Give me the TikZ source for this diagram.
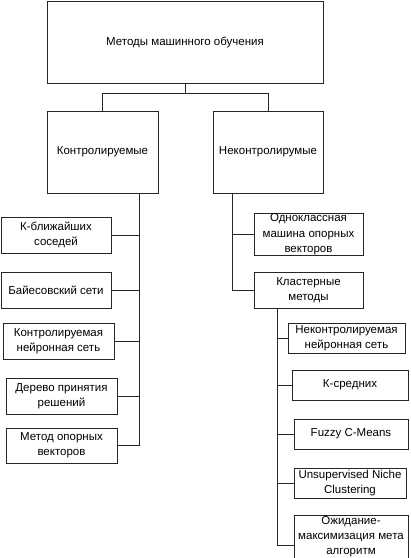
\documentclass[tikz,border=0pt]{standalone}
\usepackage{fontspec}
\setmainfont{Liberation Sans}
\usetikzlibrary{positioning}
\tikzstyle{box} = [rectangle, draw=black!85, line width=0.8pt, align=center, inner sep=1pt, font=\fontsize{11.5}{15}\selectfont]
\tikzstyle{line} = [draw=black!85, line width=0.8pt]

\begin{document}
\begin{tikzpicture}[x=1pt, y=-1pt]
\useasboundingbox (0,0) rectangle (411,558);
% top level
\node[box, minimum width=276pt, minimum height=82pt] (mlm) at (185,42) {Методы машинного обучения};
\node[box, minimum width=111pt, minimum height=82pt] (sup) at (102.5,152) {Контролируемые};
\node[box, minimum width=110pt, minimum height=82pt] (unsup) at (268,152) {Неконтролирумые};
% supervised
\node[box, minimum width=110pt, minimum height=36pt] (knn) at (56,235) {К-ближайших\\соседей};
\node[box, minimum width=110pt, minimum height=36pt] (bayes) at (56,290) {Байесовский сети};
\node[box, minimum width=111pt, minimum height=36pt] (snn) at (58.5,341) {Контролируемая\\нейронная сеть};
\node[box, minimum width=111pt, minimum height=36pt] (tree) at (61.5,396) {Дерево принятия\\решений};
\node[box, minimum width=111pt, minimum height=35pt] (svm) at (61.5,445.5) {Метод опорных\\векторов};
% unsupervised
\node[box, minimum width=109pt, minimum height=35pt, inner sep=0pt, font=\fontsize{11.5}{15.5}\selectfont] (ocsvm) at (308.5,234.5) {Одноклассная\\машина опорных\\векторов};
\node[box, minimum width=109pt, minimum height=36pt] (clust) at (308.5,290) {Кластерные\\методы};
\node[box, minimum width=117pt, minimum height=30pt] (unn) at (346.5,338) {Неконтролируемая\\нейронная сеть};
\node[box, minimum width=116pt, minimum height=30pt] (kmeans) at (350,385) {К-средних};
\node[box, minimum width=114pt, minimum height=30pt] (fcm) at (351,434) {Fuzzy C-Means};
\node[box, minimum width=112pt, minimum height=30pt] (unc) at (350,483) {Unsupervised Niche\\Clustering};
\node[box, minimum width=114pt, minimum height=40pt] (em) at (351,537) {Ожидание-\\максимизация мета\\алгоритм};
% trunks
\coordinate (tsup) at (139,0);
\coordinate (tunsup) at (232,0);
\coordinate (tclust) at (277,0);
% connectors
\draw[line] (mlm.south) -- +(0,10) -| (sup.north);
\draw[line] (mlm.south) -- +(0,10) -| (unsup.north);
\foreach \n in {knn,bayes,snn,tree,svm}
  \draw[line] (sup.south -| tsup) |- (\n.east);
\foreach \n in {ocsvm,clust}
  \draw[line] (unsup.south -| tunsup) |- (\n.west);
\foreach \n in {unn,kmeans,fcm,unc}
  \draw[line] (clust.south -| tclust) |- (\n.west);
\draw[line] (clust.south -| tclust) |- ([yshift=-8pt]em.west);
\end{tikzpicture}
\end{document}
